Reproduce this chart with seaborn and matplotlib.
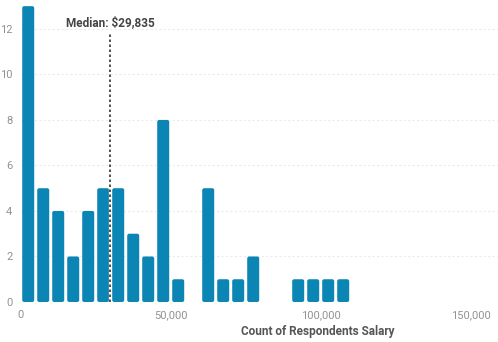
import numpy as np
import pandas as pd
import matplotlib
matplotlib.use("Agg")
import matplotlib.pyplot as plt
import seaborn as sns
from matplotlib.patches import FancyBboxPatch
from matplotlib.ticker import FuncFormatter

# Data: histogram bin left edges (salary, $) and respondent counts
bin_left = [0, 5000, 10000, 15000, 20000, 25000, 30000, 35000, 40000, 45000,
            50000, 55000, 60000, 65000, 70000, 75000, 80000, 85000, 90000,
            95000, 100000, 105000]
counts = [13, 5, 4, 2, 4, 5, 5, 3, 2, 8,
          1, 0, 5, 1, 1, 2, 0, 0, 1,
          1, 1, 1]
bin_width = 5000
median_salary = 29835
median_label = "Median: $29,835"
x_label = "Count of Respondents Salary"
x_ticks = [0, 50000, 100000, 150000]
y_ticks = [0, 2, 4, 6, 8, 10, 12]

df = pd.DataFrame({"salary": [b + bin_width / 2 for b in bin_left], "count": counts})

sns.set_theme(style="white")
plt.rcParams["font.family"] = ["Roboto", "DejaVu Sans"]

fig = plt.figure(figsize=(4.98, 3.42), dpi=100)
ax = fig.add_axes([0.0416, 0.117, 0.9584, 0.883])

bar_color = "#0b86b4"
sns.histplot(data=df, x="salary", weights="count", binwidth=bin_width,
             binrange=(0, max(bin_left) + bin_width), shrink=0.8,
             color=bar_color, alpha=1, edgecolor="none", linewidth=0, ax=ax)

xlim = (0, 159100)
ylim = (0, 13.27)
ax.set_xlim(*xlim)
ax.set_ylim(*ylim)

# round bar corners (replace each seaborn bar by a rounded box of same bounds)
px_x = (xlim[1] - xlim[0]) / (498 - 20.7)
px_y = (ylim[1] - ylim[0]) / 302.0
for p in list(ax.patches):
    x, y = p.get_x(), p.get_y()
    w, h = p.get_width(), p.get_height()
    p.remove()
    if h <= 0:
        continue
    rp = FancyBboxPatch((x, y), w, h,
                        boxstyle=f"round,pad=0,rounding_size={2 * px_x}",
                        mutation_aspect=px_y / px_x, facecolor=bar_color,
                        edgecolor="none", zorder=2)
    ax.add_patch(rp)

ax.set_xticks(x_ticks)
ax.set_yticks(y_ticks)
ax.xaxis.set_major_formatter(FuncFormatter(lambda v, _: f"{int(v):,}"))
ax.tick_params(axis="both", length=0, labelsize=8, colors="#929292")
ax.tick_params(axis="y", pad=6)
ax.tick_params(axis="x", pad=6)

ax.grid(axis="y", color="#ebebeb", linestyle=(0, (2, 2)), linewidth=0.8, zorder=0)
ax.set_axisbelow(True)
for s in ax.spines.values():
    s.set_visible(False)

ax.set_ylabel("")
ax.set_xlabel(x_label, fontsize=8.5, fontweight="bold", color="#555555")
ax.xaxis.set_label_coords((318 - 20.7) / (498 - 20.7), -0.075)

# median line
ax.axvline(median_salary, ymin=0, ymax=(302 - 32) / 302, color="white",
           linewidth=1.6, zorder=3)
ax.axvline(median_salary, ymin=0, ymax=(302 - 32) / 302, color="#333333",
           linewidth=1.2, linestyle=(0, (1.5, 1.5)), zorder=4)
ax.text(median_salary, 12.0, median_label, ha="center", va="bottom",
        fontsize=8.5, fontweight="bold", color="#444444", zorder=5)

fig.savefig("out.png", dpi=100, facecolor="white")
